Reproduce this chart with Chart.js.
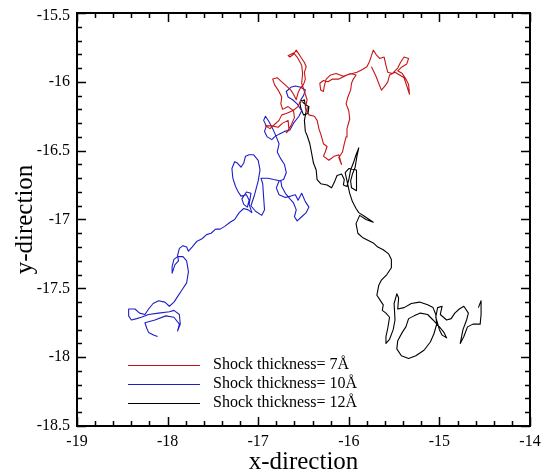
<!DOCTYPE html>
<html>
<head>
<meta charset="utf-8">
<script src="https://cdn.jsdelivr.net/npm/chart.js@4.4.1/dist/chart.umd.min.js"></script>
<style>
  html, body { margin: 0; padding: 0; background: #fff; }
  #wrap { width: 545px; height: 473px; }
</style>
</head>
<body>
<div id="wrap"><canvas id="walk-chart" width="545" height="473"></canvas></div>
<script>
// Trajectories (x, y in the plot's own units)
const RED_X = [-16.53,-16.56,-16.62,-16.69,-16.74,-16.77,-16.82,-16.87,-16.92,-16.85,
    -16.78,-16.73,-16.67,-16.66,-16.69,-16.64,-16.60,-16.61,-16.67,-16.73,
    -16.75,-16.74,-16.78,-16.82,-16.84,-16.79,-16.74,-16.69,-16.64,-16.61,
    -16.58,-16.56,-16.53,-16.50,-16.48,-16.49,-16.47,-16.49,-16.53,-16.56,
    -16.58,-16.61,-16.65,-16.67,-16.61,-16.57,-16.52,-16.51,-16.52,-16.49,
    -16.46,-16.48,-16.44,-16.38,-16.35,-16.33,-16.30,-16.28,-16.24,-16.26,
    -16.28,-16.22,-16.16,-16.11,-16.08,-16.11,-16.07,-16.05,-16.03,-16.02,
    -15.99,-16.00,-16.03,-16.01,-15.98,-15.97,-15.95,-15.92,-15.98,-16.06,
    -16.14,-16.20,-16.25,-16.27,-16.28,-16.31,-16.32,-16.28,-16.23,-16.18,
    -16.11,-16.02,-15.91,-15.85,-15.80,-15.77,-15.75,-15.73,-15.70,-15.66,
    -15.61,-15.59,-15.57,-15.52,-15.46,-15.43,-15.39,-15.34,-15.36,-15.41,
    -15.46,-15.41,-15.37,-15.34,-15.33,-15.36,-15.39,-15.49,-15.55,-15.57,
    -15.60,-15.64,-15.67,-15.70,-15.75];
const RED_Y = [-16.13,-16.18,-16.21,-16.23,-16.24,-16.28,-16.31,-16.34,-16.32,-16.32,
    -16.33,-16.30,-16.28,-16.35,-16.37,-16.32,-16.26,-16.21,-16.18,-16.20,
    -16.16,-16.11,-16.06,-16.02,-15.98,-15.97,-16.00,-16.03,-16.06,-16.09,
    -16.13,-16.08,-16.04,-16.02,-15.98,-15.93,-15.89,-15.86,-15.82,-15.79,
    -15.77,-15.80,-15.82,-15.81,-15.79,-15.82,-15.88,-15.94,-16.01,-16.07,
    -16.13,-16.19,-16.24,-16.25,-16.28,-16.34,-16.40,-16.45,-16.47,-16.51,
    -16.54,-16.57,-16.54,-16.53,-16.60,-16.55,-16.51,-16.45,-16.40,-16.34,
    -16.27,-16.21,-16.16,-16.11,-16.06,-16.01,-15.98,-15.95,-15.94,-15.96,
    -15.94,-15.95,-15.98,-16.03,-16.07,-16.06,-16.01,-15.99,-16.00,-15.98,
    -15.98,-15.95,-15.93,-15.91,-15.89,-15.85,-15.81,-15.77,-15.80,-15.83,
    -15.82,-15.88,-15.93,-15.94,-15.90,-15.86,-15.82,-15.83,-15.87,-15.89,
    -15.92,-15.94,-15.98,-16.02,-16.09,-16.03,-15.97,-15.93,-15.95,-16.00,
    -16.03,-16.06,-16.01,-15.96,-15.89];

const BLUE_X = [-16.53,-16.50,-16.48,-16.53,-16.59,-16.64,-16.69,-16.67,-16.62,-16.57,
    -16.52,-16.55,-16.61,-16.65,-16.71,-16.77,-16.82,-16.85,-16.90,-16.93,
    -16.91,-16.94,-16.92,-16.88,-16.84,-16.80,-16.77,-16.79,-16.75,-16.71,
    -16.69,-16.72,-16.77,-16.80,-16.77,-16.70,-16.64,-16.59,-16.56,-16.52,
    -16.48,-16.44,-16.47,-16.52,-16.57,-16.60,-16.58,-16.61,-16.65,-16.70,
    -16.74,-16.75,-16.83,-16.89,-16.97,-16.95,-16.94,-16.93,-16.96,-17.03,
    -17.08,-17.04,-17.00,-16.98,-17.00,-17.05,-17.10,-17.14,
    -17.16,-17.19,-17.23,-17.26,-17.29,-17.28,-17.25,-17.22,-17.19,-17.13,
    -17.10,-17.12,-17.16,-17.18,-17.13,-17.08,-17.10,-17.07,-17.11,-17.16,
    -17.21,-17.26,-17.31,-17.37,-17.42,-17.47,-17.52,-17.57,-17.62,-17.68,
    -17.73,-17.77,-17.79,-17.83,-17.87,-17.89,-17.88,-17.92,-17.95,-17.95,
    -17.93,-17.89,-17.83,-17.79,-17.77,-17.79,-17.84,-17.89,-17.93,-17.98,
    -18.03,-18.10,-18.16,-18.21,-18.25,-18.31,-18.36,-18.43,-18.43,-18.40,
    -18.34,-18.29,-18.21,-18.10,-17.98,-17.93,-17.87,-17.86,-17.89,-17.87,
    -17.93,-18.02,-18.14,-18.25,-18.23,-18.21,-18.15,-18.11];
const BLUE_Y = [-16.13,-16.10,-16.06,-16.04,-16.03,-16.04,-16.07,-16.11,-16.13,-16.16,
    -16.21,-16.25,-16.30,-16.35,-16.36,-16.38,-16.40,-16.42,-16.40,-16.36,
    -16.32,-16.28,-16.25,-16.29,-16.34,-16.40,-16.45,-16.51,-16.56,-16.60,
    -16.66,-16.71,-16.72,-16.77,-16.82,-16.84,-16.83,-16.82,-16.86,-16.81,
    -16.87,-16.91,-16.95,-16.98,-17.01,-16.98,-16.93,-16.88,-16.85,-16.81,
    -16.76,-16.72,-16.71,-16.70,-16.70,-16.74,-16.84,-16.93,-16.97,-16.94,
    -16.90,-16.82,-16.72,-16.64,-16.57,-16.53,-16.53,-16.54,
    -16.59,-16.62,-16.59,-16.58,-16.63,-16.70,-16.76,-16.80,-16.83,-16.82,
    -16.86,-16.91,-16.89,-16.85,-16.80,-16.81,-16.89,-16.95,-16.93,-16.92,
    -16.95,-17.00,-17.02,-17.05,-17.07,-17.07,-17.10,-17.11,-17.14,-17.16,
    -17.20,-17.23,-17.20,-17.19,-17.21,-17.26,-17.30,-17.33,-17.39,-17.34,
    -17.29,-17.27,-17.27,-17.30,-17.38,-17.46,-17.51,-17.56,-17.60,-17.63,
    -17.60,-17.59,-17.61,-17.65,-17.69,-17.68,-17.65,-17.65,-17.70,-17.73,
    -17.72,-17.71,-17.69,-17.68,-17.67,-17.66,-17.69,-17.76,-17.81,-17.76,
    -17.71,-17.70,-17.73,-17.75,-17.79,-17.82,-17.84,-17.85];

const BLACK_X = [-16.53,-16.49,-16.44,-16.45,-16.50,-16.53,-16.54,-16.49,-16.47,-16.49,
    -16.48,-16.46,-16.43,-16.41,-16.39,-16.36,-16.35,-16.31,-16.24,-16.19,
    -16.16,-16.13,-16.08,-16.05,-16.06,-16.02,-16.00,-15.98,-15.95,-15.92,
    -15.89,-15.91,-15.93,-15.96,-15.98,-15.97,-15.92,-15.91,-15.92,-16.00,
    -16.04,-15.99,-15.96,-15.92,-15.89,-15.82,-15.73,-15.81,-15.88,-15.92,
    -15.90,-15.85,-15.79,-15.73,-15.68,-15.62,-15.56,-15.53,-15.53,-15.58,
    -15.64,-15.67,-15.69,-15.66,-15.62,-15.63,-15.59,-15.55,-15.57,-15.59,
    -15.59,-15.55,-15.51,-15.49,-15.50,-15.47,-15.45,-15.46,-15.39,-15.31,
    -15.22,-15.13,-15.07,-15.04,-15.03,-15.06,-15.10,-15.17,-15.26,-15.34,
    -15.42,-15.47,-15.46,-15.41,-15.37,-15.34,-15.28,-15.21,-15.13,-15.07,
    -15.00,-14.95,-14.92,-14.97,-15.00,-15.04,-15.02,-14.97,-14.99,-14.92,
    -14.87,-14.83,-14.78,-14.73,-14.68,-14.70,-14.74,-14.77,-14.73,-14.69,
    -14.63,-14.55,-14.54,-14.54,-14.57];
const BLACK_Y = [-16.13,-16.16,-16.18,-16.23,-16.24,-16.19,-16.15,-16.13,-16.21,-16.28,
    -16.36,-16.39,-16.45,-16.52,-16.59,-16.64,-16.71,-16.74,-16.75,-16.77,
    -16.73,-16.68,-16.67,-16.71,-16.75,-16.76,-16.71,-16.64,-16.59,-16.53,
    -16.48,-16.54,-16.62,-16.67,-16.72,-16.77,-16.79,-16.71,-16.64,-16.63,
    -16.66,-16.81,-16.87,-16.92,-16.95,-16.98,-17.02,-17.00,-16.97,-17.03,
    -17.10,-17.13,-17.15,-17.17,-17.20,-17.22,-17.25,-17.29,-17.35,-17.40,
    -17.44,-17.48,-17.55,-17.58,-17.62,-17.66,-17.68,-17.71,-17.79,-17.85,
    -17.90,-17.87,-17.80,-17.73,-17.61,-17.54,-17.57,-17.65,-17.64,-17.61,
    -17.60,-17.62,-17.64,-17.69,-17.76,-17.83,-17.89,-17.95,-17.99,-18.01,
    -17.99,-17.94,-17.88,-17.82,-17.78,-17.72,-17.70,-17.68,-17.69,-17.73,
    -17.78,-17.82,-17.86,-17.84,-17.80,-17.71,-17.64,-17.63,-17.69,-17.73,
    -17.72,-17.68,-17.65,-17.63,-17.68,-17.73,-17.80,-17.90,-17.85,-17.78,
    -17.76,-17.76,-17.69,-17.59,-17.64];

const X_TICKS = [-19, -18, -17, -16, -15, -14];
const Y_TICKS = [-18.5, -18, -17.5, -17, -16.5, -16, -15.5];
const X_MINOR_STEP = 0.2;
const Y_MINOR_STEP = 0.1;
const SERIES_LABELS = ['Shock thickness= 7\u00C5', 'Shock thickness= 10\u00C5', 'Shock thickness= 12\u00C5'];
const SERIES_COLORS = ['rgb(200,20,20)', 'rgb(30,30,200)', 'rgb(0,0,0)'];

const SERIF = '"Liberation Serif", "Times New Roman", serif';

function toPoints(xs, ys) {
    return xs.map((x, i) => ({ x: x, y: ys[i] }));
}

/**
 * Frame with inward ticks on all four sides, tick labels, axis titles
 * and the legend drawn inside the plot, like the original figure.
 */
const frameAxes = {
    id: 'frameAxes',
    afterDraw(chart) {
        const { ctx, chartArea: a, scales: { x, y } } = chart;
        ctx.save();
        ctx.strokeStyle = '#000';
        ctx.fillStyle = '#000';

        // minor + major ticks
        ctx.lineWidth = 1.5;
        ctx.beginPath();
        for (let v = X_TICKS[0]; v <= X_TICKS[X_TICKS.length - 1] + 1e-6; v += X_MINOR_STEP) {
            const px = Math.round(x.getPixelForValue(v)) + 0.5;
            const major = X_TICKS.some(t => Math.abs(t - v) < 1e-6);
            const len = major ? 9 : 5;
            ctx.moveTo(px, a.bottom); ctx.lineTo(px, a.bottom - len);
            ctx.moveTo(px, a.top); ctx.lineTo(px, a.top + len);
        }
        for (let v = Y_TICKS[0]; v <= Y_TICKS[Y_TICKS.length - 1] + 1e-6; v += Y_MINOR_STEP) {
            const py = Math.round(y.getPixelForValue(v)) + 0.5;
            const major = Y_TICKS.some(t => Math.abs(t - v) < 1e-6);
            const len = major ? 9 : 5;
            ctx.moveTo(a.left, py); ctx.lineTo(a.left + len, py);
            ctx.moveTo(a.right, py); ctx.lineTo(a.right - len, py);
        }
        ctx.stroke();

        // frame
        ctx.lineWidth = 2;
        ctx.strokeRect(a.left, a.top, a.right - a.left, a.bottom - a.top);

        // tick labels
        ctx.font = '16px ' + SERIF;
        ctx.textAlign = 'right';
        ctx.textBaseline = 'middle';
        Y_TICKS.forEach(t => {
            const py = Math.max(y.getPixelForValue(t), a.top + 3);
            ctx.fillText(String(t), a.left - 7, py);
        });
        ctx.textAlign = 'center';
        ctx.textBaseline = 'alphabetic';
        X_TICKS.forEach(t => {
            ctx.fillText(String(t), x.getPixelForValue(t), a.bottom + 20);
        });

        // axis titles
        ctx.font = '25px ' + SERIF;
        ctx.fillText('x-direction', (a.left + a.right) / 2, a.bottom + 43);
        ctx.save();
        ctx.translate(32, (a.top + a.bottom) / 2);
        ctx.rotate(-Math.PI / 2);
        ctx.fillText('y-direction', 0, 0);
        ctx.restore();

        // legend
        ctx.font = '16px ' + SERIF;
        ctx.textAlign = 'left';
        ctx.textBaseline = 'middle';
        ctx.lineWidth = 1;
        SERIES_LABELS.forEach((label, i) => {
            const rowY = a.bottom - 61 + i * 19;
            ctx.strokeStyle = SERIES_COLORS[i];
            ctx.beginPath();
            ctx.moveTo(a.left + 51, rowY + 0.5);
            ctx.lineTo(a.left + 123, rowY + 0.5);
            ctx.stroke();
            ctx.fillStyle = '#000';
            ctx.fillText(label, a.left + 136, rowY);
        });
        ctx.restore();
    }
};

function main() {
    const series = [[RED_X, RED_Y], [BLUE_X, BLUE_Y], [BLACK_X, BLACK_Y]];
    const datasets = series.map(([xs, ys], i) => ({
        label: SERIES_LABELS[i],
        data: toPoints(xs, ys),
        showLine: true,
        borderColor: SERIES_COLORS[i],
        borderWidth: 1.1,
        borderJoinStyle: 'round',
        pointRadius: 0,
        tension: 0,
        fill: false
    }));

    new Chart(document.getElementById('walk-chart'), {
        type: 'scatter',
        data: { datasets: datasets },
        options: {
            responsive: false,
            animation: false,
            layout: { padding: { left: 77, right: 15, top: 13, bottom: 47 } },
            scales: {
                x: { type: 'linear', min: -19, max: -14, display: false },
                y: { type: 'linear', min: -18.5, max: -15.5, display: false }
            },
            plugins: {
                legend: { display: false },
                tooltip: { enabled: false }
            }
        },
        plugins: [frameAxes]
    });
}

main();
</script>
</body>
</html>
